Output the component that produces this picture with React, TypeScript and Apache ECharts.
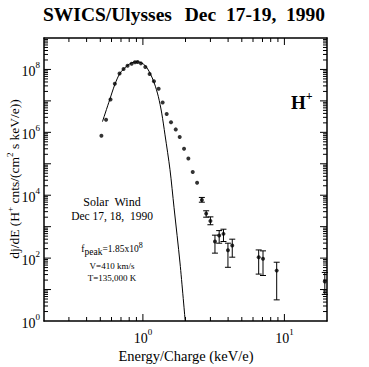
import React, { useEffect, useRef } from "react";
import * as echarts from "echarts";

// Observed H+ spectrum (energy/charge keV/e, dj/dE)
const energy = [0.509, 0.549, 0.59, 0.633, 0.684, 0.73, 0.779, 0.832, 0.878, 0.917, 0.968, 1.04, 1.116, 1.197, 1.292, 1.379, 1.472, 1.58, 1.706, 1.82, 1.953, 2.095, 2.25, 2.415, 2.61, 2.8, 3.0, 3.23, 3.46, 3.71, 3.99, 4.28, 6.58, 7.06, 8.82, 19.3];
const flux = [7.8e5, 2.5e6, 1.1e7, 3.5e7, 7.4e7, 1.04e8, 1.32e8, 1.52e8, 1.69e8, 1.73e8, 1.56e8, 1.2e8, 7.2e7, 4.2e7, 2.45e7, 8.9e6, 3.8e6, 2.1e6, 1.24e6, 7.1e5, 3.0e5, 1.48e5, 5.5e4, 2.5e4, 7.1e3, 2.6e3, 1.52e3, 336, 522, 590, 178, 250, 107, 96, 40, 18];
// Error bars (null = none drawn)
const errLow = [null, null, null, null, null, null, null, null, null, null, null, null, null, null, null, null, null, null, null, null, null, null, null, null, 6.0e3, 2.0e3, 1.15e3, 144, 298, 337, 51, 107, 31, 28, 4.7, 7];
const errHigh = [null, null, null, null, null, null, null, null, null, null, null, null, null, null, null, null, null, null, null, null, null, null, null, null, 8.5e3, 3.2e3, 2.05e3, 537, 750, 830, 298, 400, 182, 170, 74, 35];

// Maxwellian fit curve
const fitEnergy = [0.518, 0.583, 0.633, 0.687, 0.766, 0.853, 0.926, 1.033, 1.122, 1.203, 1.284, 1.358, 1.433, 1.554, 1.66, 1.829, 1.99];
const fitFlux = [2.2e6, 1.1e7, 3.3e7, 7.4e7, 1.26e8, 1.69e8, 1.74e8, 1.35e8, 7.7e7, 3.7e7, 1.4e7, 4.1e6, 8.3e5, 6.5e4, 4.0e3, 70, 1];

const X_MIN = 0.2;
const X_MAX = 20;
const Y_MIN = 1;
const Y_MAX = 1e9;

const xMajorTicks = [1, 10];
const xMinorTicks = [0.3, 0.4, 0.5, 0.6, 0.7, 0.8, 0.9, 2, 3, 4, 5, 6, 7, 8, 9];
const yDecades = [0, 1, 2, 3, 4, 5, 6, 7, 8];
const yMinorMultipliers = [2, 3, 4, 5, 6, 7, 8, 9];

const SERIF = "'Liberation Serif', 'DejaVu Serif', serif";

function isPow10(v: number) {
  const l = Math.log10(v);
  return Math.abs(l - Math.round(l)) < 1e-6;
}

export default function App() {
  const ref = useRef<HTMLDivElement>(null);

  useEffect(() => {
    if (!ref.current) return;
    const chart = echarts.init(ref.current, undefined, { renderer: "svg" });

    const tickData: number[][] = [];
    xMajorTicks.forEach((v) => tickData.push([v, Y_MIN, 7, 0]));
    xMinorTicks.forEach((v) => tickData.push([v, Y_MIN, 4, 0]));
    yDecades.forEach((d) => {
      if (d > 0) tickData.push([X_MIN, Math.pow(10, d), 7, 1]);
      yMinorMultipliers.forEach((m) => tickData.push([X_MIN, m * Math.pow(10, d), 4, 1]));
    });

    const scatterData = energy.map((e, i) => [e, flux[i]]);
    const errData: number[][] = [];
    energy.forEach((e, i) => {
      if (errLow[i] != null && errHigh[i] != null) errData.push([e, flux[i], errLow[i] as number, errHigh[i] as number]);
    });
    const fitData = fitEnergy.map((e, i) => [e, fitFlux[i]]);

    const labelRich = {
      b: { fontSize: 14, fontFamily: SERIF, color: "#000", lineHeight: 18, verticalAlign: "bottom" },
      s: { fontSize: 9, fontFamily: SERIF, color: "#000", lineHeight: 18, verticalAlign: "top" },
    };

    const axisLine = { show: true, onZero: false, lineStyle: { color: "#000", width: 1.5 } };

    chart.setOption({
      animation: false,
      backgroundColor: "#fff",
      grid: { left: 44, right: 42, top: 38, bottom: 46, containLabel: false },
      xAxis: [
        {
          type: "log",
          logBase: 10,
          min: X_MIN,
          max: X_MAX,
          position: "bottom",
          axisLine,
          axisTick: { show: false },
          splitLine: { show: false },
          axisLabel: {
            margin: 6,
            showMinLabel: false,
            showMaxLabel: false,
            formatter: (v: number) => (isPow10(v) ? `{b|10}{s|${Math.round(Math.log10(v))}}` : ""),
            rich: labelRich,
          },
        },
        {
          type: "log",
          logBase: 10,
          min: X_MIN,
          max: X_MAX,
          position: "top",
          axisLine,
          axisTick: { show: false },
          splitLine: { show: false },
          axisLabel: { show: false },
        },
      ],
      yAxis: [
        {
          type: "log",
          logBase: 10,
          min: Y_MIN,
          max: Y_MAX,
          position: "left",
          axisLine,
          axisTick: { show: false },
          splitLine: { show: false },
          axisLabel: {
            margin: 4,
            formatter: (v: number) => {
              if (!isPow10(v)) return "";
              const e = Math.round(Math.log10(v));
              return e % 2 === 0 && e <= 8 ? `{b|10}{s|${e}}` : "";
            },
            rich: labelRich,
          },
        },
        {
          type: "log",
          logBase: 10,
          min: Y_MIN,
          max: Y_MAX,
          position: "right",
          axisLine,
          axisTick: { show: false },
          splitLine: { show: false },
          axisLabel: { show: false },
        },
      ],
      series: [
        {
          type: "custom",
          name: "ticks",
          silent: true,
          clip: false,
          xAxisIndex: 0,
          yAxisIndex: 0,
          data: tickData,
          renderItem: (params: any, api: any) => {
            const len = api.value(2);
            const kind = api.value(3);
            const style = { stroke: "#000", lineWidth: 1 };
            if (kind === 0) {
              const v = api.value(0);
              const b = api.coord([v, Y_MIN]);
              const t = api.coord([v, Y_MAX]);
              return {
                type: "group",
                children: [
                  { type: "line", shape: { x1: b[0], y1: b[1], x2: b[0], y2: b[1] - len }, style },
                  { type: "line", shape: { x1: t[0], y1: t[1], x2: t[0], y2: t[1] + len }, style },
                ],
              };
            }
            const v = api.value(1);
            const l = api.coord([X_MIN, v]);
            const r = api.coord([X_MAX, v]);
            return {
              type: "group",
              children: [
                { type: "line", shape: { x1: l[0], y1: l[1], x2: l[0] + len, y2: l[1] }, style },
                { type: "line", shape: { x1: r[0], y1: r[1], x2: r[0] - len, y2: r[1] }, style },
              ],
            };
          },
        },
        {
          type: "line",
          name: "fit",
          data: fitData,
          smooth: 0.3,
          symbol: "none",
          lineStyle: { color: "#000", width: 1 },
          silent: true,
        },
        {
          type: "custom",
          name: "errors",
          silent: true,
          data: errData,
          renderItem: (params: any, api: any) => {
            const x = api.value(0);
            const lo = api.coord([x, api.value(2)]);
            const hi = api.coord([x, api.value(3)]);
            const style = { stroke: "#000", lineWidth: 1 };
            const c = 3;
            return {
              type: "group",
              children: [
                { type: "line", shape: { x1: lo[0], y1: lo[1], x2: hi[0], y2: hi[1] }, style },
                { type: "line", shape: { x1: lo[0] - c, y1: lo[1], x2: lo[0] + c, y2: lo[1] }, style },
                { type: "line", shape: { x1: hi[0] - c, y1: hi[1], x2: hi[0] + c, y2: hi[1] }, style },
              ],
            };
          },
        },
        {
          type: "scatter",
          name: "data",
          data: scatterData,
          symbol: "circle",
          symbolSize: 4,
          itemStyle: { color: "#000" },
          silent: true,
        },
      ],
      graphic: [
        { type: "text", left: 43, top: 4, style: { text: "SWICS/Ulysses", font: `bold 19.5px ${SERIF}`, fill: "#000" } },
        { type: "text", right: 44, top: 4, style: { text: "Dec  17-19,  1990", font: `bold 19.5px ${SERIF}`, fill: "#000" } },
        {
          type: "text",
          left: 291,
          top: 90,
          style: {
            text: "{h|H}{p|+}",
            rich: {
              h: { fontSize: 19, fontWeight: "bold", fontFamily: SERIF, fill: "#000", lineHeight: 22, verticalAlign: "bottom" },
              p: { fontSize: 12, fontWeight: "bold", fontFamily: SERIF, fill: "#000", lineHeight: 22, verticalAlign: "top" },
            },
          },
        },
        { type: "text", x: 112, y: 202, style: { text: "Solar  Wind", font: `12px ${SERIF}`, fill: "#000", align: "center", verticalAlign: "middle" } },
        { type: "text", x: 112, y: 216, style: { text: "Dec 17, 18,  1990", font: `11.5px ${SERIF}`, fill: "#000", align: "center", verticalAlign: "middle" } },
        {
          type: "text",
          x: 112,
          y: 249,
          style: {
            text: "{a|f}{sub|peak}{a|=1.85x10}{sup|8}",
            align: "center",
            verticalAlign: "middle",
            rich: {
              a: { fontSize: 9.5, fontFamily: SERIF, fill: "#000", lineHeight: 16, verticalAlign: "middle" },
              sub: { fontSize: 9.5, fontFamily: SERIF, fill: "#000", lineHeight: 16, verticalAlign: "bottom", padding: [6, 0, 0, 0] },
              sup: { fontSize: 8, fontFamily: SERIF, fill: "#000", lineHeight: 16, verticalAlign: "top" },
            },
          },
        },
        { type: "text", x: 112, y: 266, style: { text: "V=410 km/s", font: `9px ${SERIF}`, fill: "#000", align: "center", verticalAlign: "middle" } },
        { type: "text", x: 112, y: 278, style: { text: "T=135,000 K", font: `9px ${SERIF}`, fill: "#000", align: "center", verticalAlign: "middle" } },
        { type: "text", x: 186, y: 356, style: { text: "Energy/Charge (keV/e)", font: `14.5px ${SERIF}`, fill: "#000", align: "center", verticalAlign: "middle" } },
        {
          type: "text",
          x: 13,
          y: 179,
          rotation: Math.PI / 2,
          style: {
            text: "{a|dj/dE (H}{s|+}{a| cnts/(cm}{s|2}{a| s keV/e))}",
            align: "center",
            verticalAlign: "middle",
            rich: {
              a: { fontSize: 13.5, fontFamily: SERIF, fill: "#000", lineHeight: 16, verticalAlign: "bottom" },
              s: { fontSize: 9, fontFamily: SERIF, fill: "#000", lineHeight: 16, verticalAlign: "top" },
            },
          },
        },
      ],
    });

    return () => chart.dispose();
  }, []);

  return <div ref={ref} style={{ width: 369, height: 367, position: "absolute", left: 0, top: 0 }} />;
}
